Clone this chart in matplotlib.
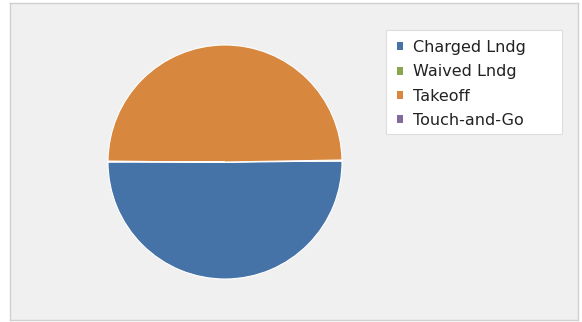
import matplotlib
matplotlib.use('Agg')
import matplotlib.pyplot as plt
from matplotlib.patches import Rectangle

labels = ['Charged Lndg', 'Waived Lndg', 'Takeoff', 'Touch-and-Go']
values = [1004, 3, 994, 2]
colors = ['#4572a7', '#89a54e', '#d8873f', '#80699b']

W, H = 582, 322
fig = plt.figure(figsize=(W/100, H/100), dpi=100)
fig.patch.set_facecolor('white')

# panel background with border
bg = fig.add_axes([10/W, 2/H, 568/W, 317/H], zorder=-1)
bg.set_facecolor('#f0f0f0')
bg.set_xticks([])
bg.set_yticks([])
for s in bg.spines.values():
    s.set_edgecolor('#d0d0d0')
    s.set_linewidth(1)

# pie axes: center ~ (225,162), radius ~117 px
r = 117
ax = fig.add_axes([(225 - r)/W, 1 - (162 + r)/H, 2*r/W, 2*r/H])
wedges, _ = ax.pie(values, colors=colors, startangle=180, counterclock=True,
                   wedgeprops=dict(edgecolor='white', linewidth=0.8))
ax.set_xlim(-1, 1)
ax.set_ylim(-1, 1)
ax.set_aspect('equal')

# legend box drawn by hand (it has extra room on the right)
fig.patches.append(Rectangle((386/W, 1 - 134/H), 176/W, 104/H, transform=fig.transFigure,
                             facecolor='white', edgecolor='#dddddd', lw=0.8, zorder=2))
leg = fig.legend(wedges, labels, loc='upper left', bbox_to_anchor=(397/W, 1 - 40/H),
                 frameon=False, fontsize=11.5, handlelength=0.4, handleheight=0.4,
                 handletextpad=0.6, labelspacing=0.58, borderpad=0, borderaxespad=0,
                 labelcolor='#222222')
leg.set_zorder(3)
for h in leg.legend_handles:
    h.set_edgecolor('none')

fig.savefig('out.png', dpi=100)
